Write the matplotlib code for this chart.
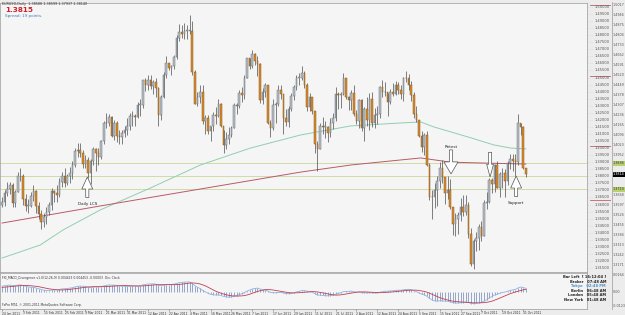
import numpy as np
import pandas as pd
import matplotlib
matplotlib.use("Agg")
import matplotlib.pyplot as plt
from matplotlib.patches import FancyArrow

# ---------------- data (EURUSD daily) ----------------
first_open = 1.3600
closes = [
 1.3620,1.3680,1.3710,1.3740,1.3610,1.3690,1.3800,1.3805,1.3640,1.3590,
 1.3590,1.3660,1.3695,1.3590,1.3530,1.3475,1.3510,1.3545,1.3595,1.3695,
 1.3680,1.3670,1.3760,1.3800,1.3755,1.3800,1.3820,1.3880,1.3980,1.3985,
 1.3965,1.3890,1.3915,1.3820,1.3905,1.3990,1.3965,1.3935,1.4050,1.4180,
 1.4175,1.4220,1.4085,1.4175,1.4085,1.4075,1.4110,1.4130,1.4160,1.4230,
 1.4230,1.4220,1.4305,1.4305,1.4480,1.4450,1.4485,1.4440,1.4470,1.4425,
 1.4235,1.4360,1.4520,1.4600,1.4570,1.4580,1.4645,1.4780,1.4825,1.4805,
 1.4830,1.4830,1.4830,1.4540,1.4315,1.4360,1.4395,1.4195,1.4210,1.4120,
 1.4155,1.4235,1.4230,1.4310,1.4160,1.4020,1.4065,1.4095,1.4140,1.4305,
 1.4295,1.4390,1.4375,1.4500,1.4635,1.4580,1.4665,1.4615,1.4595,1.4340,
 1.4395,1.4445,1.4180,1.4140,1.4305,1.4315,1.4415,1.4380,1.4210,1.4185,
 1.4280,1.4370,1.4435,1.4500,1.4500,1.4535,1.4450,1.4290,1.4365,1.4265,
 1.4030,1.3990,1.4160,1.4150,1.4150,1.4105,1.4180,1.4210,1.4385,1.4375,
 1.4380,1.4495,1.4360,1.4340,1.4390,1.4240,1.4190,1.4340,1.4140,1.4280,
 1.4200,1.4350,1.4175,1.4235,1.4245,1.4430,1.4395,1.4400,1.4330,1.4395,
 1.4385,1.4450,1.4410,1.4385,1.4495,1.4500,1.4445,1.4375,1.4240,1.4200,
 1.4085,1.4010,1.4090,1.3880,1.3650,1.3650,1.3700,1.3770,1.3860,1.3795,
 1.3685,1.3705,1.3580,1.3460,1.3500,1.3525,1.3580,1.3545,1.3600,1.3390,
 1.3180,1.3345,1.3365,1.3440,1.3380,1.3610,1.3615,1.3775,1.3745,1.3880,
 1.3720,1.3815,1.3825,1.3765,1.3895,1.3920,1.3910,1.3900,1.4180,1.4150,
 1.3859,1.3814]
highs = [
 1.3655,1.3700,1.3760,1.3760,1.3755,1.3700,1.3830,1.3860,1.3815,1.3675,
 1.3640,1.3690,1.3740,1.3700,1.3620,1.3560,1.3540,1.3580,1.3615,1.3720,
 1.3700,1.3735,1.3790,1.3830,1.3860,1.3815,1.3865,1.3905,1.4000,1.4035,
 1.4035,1.3985,1.3950,1.3940,1.3925,1.4010,1.4000,1.4000,1.4060,1.4190,
 1.4250,1.4240,1.4225,1.4200,1.4195,1.4125,1.4130,1.4160,1.4215,1.4250,
 1.4265,1.4245,1.4325,1.4345,1.4485,1.4495,1.4520,1.4520,1.4485,1.4495,
 1.4430,1.4375,1.4540,1.4650,1.4605,1.4590,1.4660,1.4800,1.4880,1.4870,
 1.4885,1.4875,1.4940,1.4900,1.4550,1.4400,1.4450,1.4450,1.4235,1.4235,
 1.4160,1.4255,1.4290,1.4345,1.4320,1.4130,1.4115,1.4150,1.4160,1.4320,
 1.4320,1.4410,1.4430,1.4515,1.4640,1.4640,1.4695,1.4675,1.4650,1.4600,
 1.4425,1.4460,1.4450,1.4200,1.4345,1.4330,1.4450,1.4450,1.4385,1.4280,
 1.4300,1.4390,1.4450,1.4520,1.4535,1.4580,1.4545,1.4460,1.4390,1.4365,
 1.4250,1.4050,1.4180,1.4220,1.4190,1.4160,1.4215,1.4250,1.4435,1.4400,
 1.4395,1.4530,1.4500,1.4370,1.4410,1.4450,1.4270,1.4350,1.4350,1.4290,
 1.4365,1.4390,1.4400,1.4285,1.4300,1.4440,1.4480,1.4470,1.4390,1.4420,
 1.4460,1.4475,1.4470,1.4450,1.4505,1.4545,1.4525,1.4475,1.4395,1.4295,
 1.4200,1.4120,1.4110,1.4120,1.3895,1.3705,1.3750,1.3800,1.3900,1.3915,
 1.3775,1.3800,1.3780,1.3580,1.3540,1.3550,1.3645,1.3665,1.3665,1.3615,
 1.3435,1.3355,1.3405,1.3465,1.3480,1.3630,1.3690,1.3790,1.3790,1.3890,
 1.3910,1.3830,1.3860,1.3850,1.3910,1.3955,1.3960,1.3955,1.4245,1.4175,
 1.4155,1.3860]
lows = [
 1.3580,1.3590,1.3660,1.3675,1.3580,1.3585,1.3690,1.3770,1.3600,1.3555,
 1.3540,1.3580,1.3625,1.3540,1.3500,1.3430,1.3440,1.3460,1.3525,1.3560,
 1.3620,1.3620,1.3650,1.3725,1.3725,1.3735,1.3755,1.3780,1.3865,1.3935,
 1.3935,1.3860,1.3860,1.3790,1.3745,1.3880,1.3840,1.3880,1.3920,1.4030,
 1.4145,1.4155,1.4075,1.4060,1.4040,1.4030,1.4030,1.4075,1.4090,1.4130,
 1.4160,1.4155,1.4215,1.4225,1.4285,1.4405,1.4410,1.4420,1.4385,1.4365,
 1.4155,1.4200,1.4355,1.4500,1.4550,1.4520,1.4560,1.4630,1.4760,1.4780,
 1.4770,1.4775,1.4805,1.4515,1.4310,1.4300,1.4320,1.4170,1.4100,1.4100,
 1.4050,1.4120,1.4170,1.4220,1.4150,1.3968,1.3995,1.4030,1.4080,1.4140,
 1.4240,1.4285,1.4325,1.4350,1.4495,1.4560,1.4570,1.4590,1.4510,1.4320,
 1.4310,1.4360,1.4170,1.4080,1.4130,1.4180,1.4300,1.4350,1.4100,1.4160,
 1.4150,1.4260,1.4340,1.4410,1.4450,1.4485,1.4425,1.4265,1.4260,1.4240,
 1.3965,1.3835,1.3990,1.4100,1.4070,1.4040,1.4080,1.4135,1.4190,1.4280,
 1.4285,1.4375,1.4345,1.4270,1.4270,1.4230,1.4170,1.4140,1.4120,1.4050,
 1.4155,1.4125,1.4150,1.4145,1.4170,1.4215,1.4360,1.4370,1.4230,1.4310,
 1.4370,1.4375,1.4380,1.4350,1.4335,1.4470,1.4410,1.4335,1.4215,1.4185,
 1.4075,1.3975,1.3950,1.3870,1.3630,1.3495,1.3575,1.3590,1.3720,1.3750,
 1.3605,1.3640,1.3565,1.3385,1.3380,1.3390,1.3485,1.3520,1.3525,1.3365,
 1.3165,1.3145,1.3270,1.3280,1.3345,1.3375,1.3565,1.3610,1.3680,1.3690,
 1.3715,1.3655,1.3720,1.3655,1.3740,1.3850,1.3835,1.3800,1.3880,1.4095,
 1.3850,1.3794]

date_labels = ["24 Jan 2011","3 Feb 2011","15 Feb 2011","25 Feb 2011","9 Mar 2011",
               "21 Mar 2011","31 Mar 2011","12 Apr 2011","22 Apr 2011","4 May 2011",
               "16 May 2011","26 May 2011","7 Jun 2011","17 Jun 2011","29 Jun 2011",
               "11 Jul 2011","21 Jul 2011","2 Aug 2011","12 Aug 2011","24 Aug 2011",
               "5 Sep 2011","15 Sep 2011","27 Sep 2011","7 Oct 2011","19 Oct 2011",
               "31 Oct 2011"]
date_label_bars = [0,8,16,24,32,40,48,56,64,72,80,88,96,104,112,120,128,136,144,152,
                   160,168,176,184,192,200]

# moving averages (read at sample bars)
ma_green_bars = [0, 14.6, 23.4, 37.7, 56.9, 76.1, 95.3, 114.6, 133.8, 153, 160.7, 165.7, 178.8, 188.8, 195.3, 201]
ma_green_vals = [1.3221,1.3313,1.3420,1.3562,1.3717,1.3880,1.4000,1.4093,1.4157,1.4178,1.4185,1.4150,1.4079,1.4022,1.4000,1.3994]
ma_red_bars = [0, 37.7, 76.1, 114.6, 133.8, 153, 160.7, 172.3, 185, 201]
ma_red_vals = [1.3469,1.3590,1.3710,1.3830,1.3880,1.3916,1.3930,1.3900,1.3894,1.3887]

levels = [1.3894, 1.3800, 1.3710]
red_marks = [1.5014, 1.4511, 1.4015, 1.3632]
current_price = 1.3814
# MACD state before the first visible bar (estimated from the panel)
ema12_seed, ema26_seed, signal_seed = 1.3480, 1.3380, 0.0080

# ---------------- figure ----------------
W, H = 625, 315
fig = plt.figure(figsize=(W/100, H/100), dpi=100)
fig.patch.set_facecolor("#ececec")
BG = "#f5f5f5"

def fx(px): return px / W
def fy(py): return 1 - py / H

ax = fig.add_axes([0, fy(272), fx(587), (272-3)/H])
ax.set_facecolor(BG)
n = len(closes)
idx = np.arange(n)
opens = np.array([first_open] + closes[:-1])  # FX daily open = previous close
c = np.array(closes); h = np.array(highs); l = np.array(lows)
up = c >= opens

ax.vlines(idx, l, h, color="#4d4d4d", lw=0.5, zorder=2)
body_lo = np.minimum(opens, c); body_h = np.maximum(np.abs(c - opens), 0.0004)
ax.bar(idx[up], body_h[up], bottom=body_lo[up], width=0.62, color="#b9bfc6",
       edgecolor="#6c727a", lw=0.35, zorder=3)
ax.bar(idx[~up], body_h[~up], bottom=body_lo[~up], width=0.62, color="#d88c2e",
       edgecolor="#8a5a20", lw=0.35, zorder=3)

ax.plot(ma_green_bars, ma_green_vals, color="#8fcfb0", lw=0.7, zorder=1)
ax.plot(ma_red_bars, ma_red_vals, color="#b85a6a", lw=0.7, zorder=1)
for lv in levels:
    ax.axhline(lv, color="#c9d79a", lw=0.6, zorder=0)

ylo, yhi = 1.3122, 1.5028
ax.set_ylim(ylo, yhi)
ax.set_xlim(-0.8, 224.5)
ax.set_xticks([]); ax.set_yticks([])
for s in ax.spines.values():
    s.set_color("#9a9a9a"); s.set_linewidth(0.5)

def price_to_fy(p):
    return fy(272) + (p - ylo) / (yhi - ylo) * (272 - 3) / H

# inner price scale
for k in range(38):
    p = 1.50 - 0.005 * k
    fig.text(fx(588), price_to_fy(p), "- - -", fontsize=2.0, color="#b0b0b0",
             va="center", ha="left")
    fig.text(fx(595), price_to_fy(p), f"{p:.5f}", fontsize=2.6, color="#555555",
             va="center", ha="left")
for p in red_marks:
    fig.add_artist(plt.Line2D([fx(590), fx(610)], [price_to_fy(p)] * 2,
                              color="#c06070", lw=0.6))
fig.add_artist(plt.Line2D([fx(611.5), fx(611.5)], [fy(309), fy(2)], color="#999999", lw=0.5))
# outer price scale
for k in range(27):
    p = 1.5017 - 0.0071 * k
    if abs(p - current_price) < 0.003 or any(abs(p - lv) < 0.003 for lv in levels[::2]):
        continue
    fig.text(fx(613), price_to_fy(p), f"{p:.4f}", fontsize=2.4, color="#555555",
             va="center", ha="left")
for lv in levels[::2]:
    fig.text(fx(613), price_to_fy(lv), f"{lv:.4f}", fontsize=2.4, color="#333333",
             va="center", ha="left",
             bbox=dict(boxstyle="square,pad=0.15", fc="#b8d070", ec="none"))
fig.text(fx(613), price_to_fy(current_price), f"{current_price:.4f}", fontsize=2.4,
         color="white", va="center", ha="left",
         bbox=dict(boxstyle="square,pad=0.15", fc="black", ec="none"))

# annotations
def up_arrow(x, tip, label):
    ax.add_patch(FancyArrow(x, tip - 0.0145, 0, 0.0145, width=1.2, head_width=4.2,
                            head_length=0.0085, length_includes_head=True,
                            fc="white", ec="#555555", lw=0.5, zorder=5))
    ax.text(x, tip - 0.0175, label, fontsize=3.0, ha="center", va="top",
            color="#222222", zorder=6)

def down_arrow(x, tip, label=None, hw=5.4, hl=0.0085, L=0.017):
    ax.add_patch(FancyArrow(x, tip + L, 0, -L, width=1.2, head_width=hw,
                            head_length=hl, length_includes_head=True,
                            fc="white", ec="#555555", lw=0.5, zorder=5))
    if label:
        ax.text(x, tip + L + 0.001, label, fontsize=3.0, ha="center", va="bottom",
                color="#222222", zorder=6)

up_arrow(32.7, 1.3795, "Daily LCS")
down_arrow(172.3, 1.3817, "Retest")
down_arrow(187.3, 1.3795, None, hw=2.6, hl=0.009, L=0.0175)
up_arrow(197.3, 1.3802, "Support")

# header
fig.text(fx(2), fy(3.5), "EURUSD,Daily  1.38588 1.38599 1.37937 1.38140", fontsize=2.4,
         color="#333333", va="center")
fig.text(fx(5), fy(10), "1.3815", fontsize=5.2, color="#d0202a", weight="bold", va="center")
fig.text(fx(5), fy(16), "Spread: 19 points.", fontsize=3.0, color="#4a7ab8", va="center")

# ---------------- MACD panel ----------------
ax2 = fig.add_axes([0, fy(309), fx(587), (309-273)/H])
ax2.set_facecolor(BG)
e12, e26 = ema12_seed, ema26_seed
macd = []
for v in c:
    e12 += (v - e12) * 2 / 13
    e26 += (v - e26) * 2 / 27
    macd.append(e12 - e26)
macd = np.array(macd)
sig_in = pd.Series(np.concatenate([[signal_seed] * 8, macd]))
signal = sig_in.rolling(9).mean().values[8:]
ax2.vlines(idx, 0, macd, color="#6f86b8", lw=0.5)
ax2.plot(idx, macd, color="#8fb2e0", lw=0.6)
ax2.plot(idx, signal, color="#c04050", lw=0.6)
ax2.set_xlim(-0.8, 224.5)
ax2.set_ylim(-0.030, 0.0336)
ax2.set_yticks([])
ax2.set_xticks(date_label_bars)
ax2.set_xticklabels(date_labels, fontsize=2.2, ha="left", color="#333333")
ax2.tick_params(axis="x", length=1.2, width=0.4, pad=0.6, color="#666666")
for sp in ax2.spines.values():
    sp.set_color("#9a9a9a"); sp.set_linewidth(0.5)
ax2.text(0.004, 0.93, "FXI_MACD_Divergence v1.0(12,26,9) 0.004423 0.004453 -0.00003  Div: Clock",
         transform=ax2.transAxes, fontsize=2.2, color="#333333", va="top")
ax2.text(0.004, 0.05, "FxPro MT4, \u00a9 2001-2011 MetaQuotes Software Corp.",
         transform=ax2.transAxes, fontsize=2.2, color="#333333", va="bottom")
for yy, t in [(275, "0.0164"), (292, "0.00"), (306, "-0.0123")]:
    fig.text(fx(612.5), fy(yy), t, fontsize=2.4, color="#555555", va="center", ha="left")

clock = [("Bar Left  [ 16:12:04 ]", "#222222"), ("Broker   07:48 AM", "#222222"),
         ("Tokyo   02:48 PM", "#4a90c8"), ("Berlin   06:48 AM", "#222222"),
         ("London   05:48 AM", "#222222"), ("New York   01:48 AM", "#222222")]
for k, (t, col) in enumerate(clock):
    fig.text(fx(606), fy(277 + 4.6 * k), t, fontsize=2.6, color=col, ha="right",
             va="center", weight="bold")

fig.savefig("out.png", dpi=100, facecolor=fig.get_facecolor())
